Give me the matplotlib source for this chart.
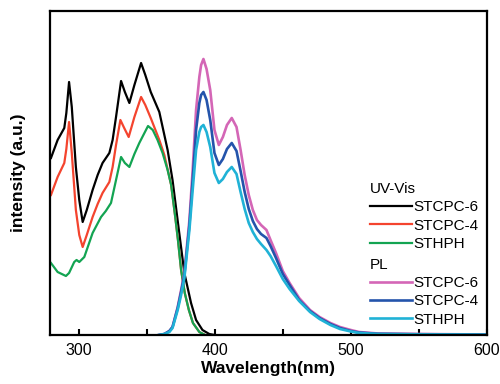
import numpy as np
import matplotlib
matplotlib.use("Agg")
import matplotlib.pyplot as plt

plt.rcParams['font.family'] = ['Liberation Sans', 'DejaVu Sans']

# UV-Vis absorption (arbitrary units)
uv_black_x = [279.7, 284.6, 289.5, 291, 293, 295, 298, 300.5, 303, 306, 310.3, 314, 317.6, 322.6, 325,
              327.5, 331.2, 334, 337.3, 341, 345.9, 349, 353, 359.3, 365.4, 369, 373, 377.7, 382.6,
              386.3, 391, 396, 400]
uv_black_y = [177, 195, 207, 222, 253, 228, 168, 135, 113, 125, 145, 160, 172, 182, 195,
              218, 254, 243, 232, 250, 272, 260, 243, 223, 185, 155, 112, 62, 32,
              15, 5, 1, 0]

uv_red_x = [279.7, 284.6, 289.5, 291, 293, 295, 298, 300.5, 303, 306, 310.3, 314, 317.6, 322.6, 325,
            327.5, 330.7, 333.5, 336.8, 341, 345.9, 349, 353, 359.3, 363, 366, 368, 371, 373,
            375.3, 378, 381, 384, 388.7, 393]
uv_red_y = [140, 158, 172, 186, 213, 182, 125, 100, 88, 100, 118, 131, 142, 153, 168,
            190, 215, 207, 198, 218, 238, 230, 217, 195, 180, 162, 150, 118, 95,
            65, 42, 25, 12, 3, 0]

uv_green_x = [279.7, 284.6, 290.7, 293, 296.8, 298.5, 300.5, 304.2, 310.3, 316.5, 320, 323.8, 327.5,
              331.2, 334, 337.3, 341, 344.6, 351, 354.5, 358, 361.7, 365.4, 368, 371, 373,
              375.3, 378, 381, 384, 388.7, 393]
uv_green_y = [72, 63, 59, 62, 73, 75, 73, 78, 102, 118, 124, 132, 155,
              178, 172, 168, 181, 192, 209, 205, 195, 182, 165, 150, 118, 95,
              65, 42, 25, 12, 3, 0]

# PL emission
pl_x = [359, 363, 366.7, 369, 372.8, 375.3, 377.7, 381.4, 383.8, 386.3, 388.7, 390, 391.7, 394, 396.7,
        399.8, 403, 406, 409, 412.5, 416, 419, 422, 425, 428, 431, 434, 438, 441, 445, 450, 455,
        462, 470, 477, 485, 492, 500, 506, 520, 550, 600]
pl_pink_y = [0, 1, 4, 8, 28, 45, 62, 115, 165, 225, 258, 270, 276, 266, 245,
             205, 190, 198, 210, 217, 208, 185, 160, 140, 125, 115, 110, 105, 95, 82, 64, 52,
             37, 25, 18, 12, 8, 5, 3, 1.5, 1, 0.5]
pl_blue_y = [0, 1, 4, 8, 27, 43, 60, 110, 155, 205, 232, 240, 243, 235, 215,
             182, 170, 176, 186, 192, 184, 164, 143, 126, 114, 106, 101, 97, 89, 77, 61, 50,
             35, 24, 17, 11, 7, 4, 2.5, 1.2, 0.8, 0.4]
pl_cyan_y = [0, 1, 3, 7, 25, 40, 57, 105, 145, 185, 203, 208, 210, 203, 188,
             162, 152, 156, 163, 168, 161, 143, 126, 112, 103, 96, 91, 85, 79, 69, 56, 46,
             34, 23, 16, 10, 6, 3.5, 2, 1, 0.6, 0.3]

fig = plt.figure(figsize=(5.0, 3.84), dpi=100)
ax = fig.add_axes([0.1, 0.1276, 0.874, 0.8438])

lw = 1.6
h_black, = ax.plot(uv_black_x, uv_black_y, color='black', lw=lw)
h_red, = ax.plot(uv_red_x, uv_red_y, color='#f4442e', lw=lw)
h_green, = ax.plot(uv_green_x, uv_green_y, color='#13a452', lw=lw)
h_pink, = ax.plot(pl_x, pl_pink_y, color='#d466b6', lw=lw + 0.3)
h_blue, = ax.plot(pl_x, pl_blue_y, color='#2454ab', lw=lw + 0.3)
h_cyan, = ax.plot(pl_x, pl_cyan_y, color='#20b2d6', lw=lw + 0.3)

ax.set_xlim(279, 600)
ax.set_ylim(0, 324)
ax.set_xticks([300, 400, 500, 600])
ax.set_xticks([350, 450, 550], minor=True)
ax.set_yticks([])
ax.tick_params(axis='x', which='both', direction='in', length=4, width=1.5, labelsize=11.5, pad=6)
for s in ax.spines.values():
    s.set_linewidth(1.6)

ax.set_xlabel("Wavelength(nm)", fontsize=12.5, fontweight='bold', labelpad=2)
ax.set_ylabel("intensity (a.u.)", fontsize=12.5, fontweight='bold', labelpad=17)

leg_kw = dict(frameon=False, fontsize=11, title_fontsize=11, handlelength=2.75, handletextpad=0.1,
              labelspacing=0.28, borderpad=0, borderaxespad=0, alignment='left', loc='upper left')
leg1 = ax.legend([h_black, h_red, h_green], ["STCPC-6", "STCPC-4", "STHPH"], title="UV-Vis",
                 bbox_to_anchor=(0.732, 0.472), **leg_kw)
ax.add_artist(leg1)
ax.legend([h_pink, h_blue, h_cyan], ["STCPC-6", "STCPC-4", "STHPH"], title="PL",
          bbox_to_anchor=(0.732, 0.238), **leg_kw)

plt.savefig("out.png", dpi=100)
plt.close()
